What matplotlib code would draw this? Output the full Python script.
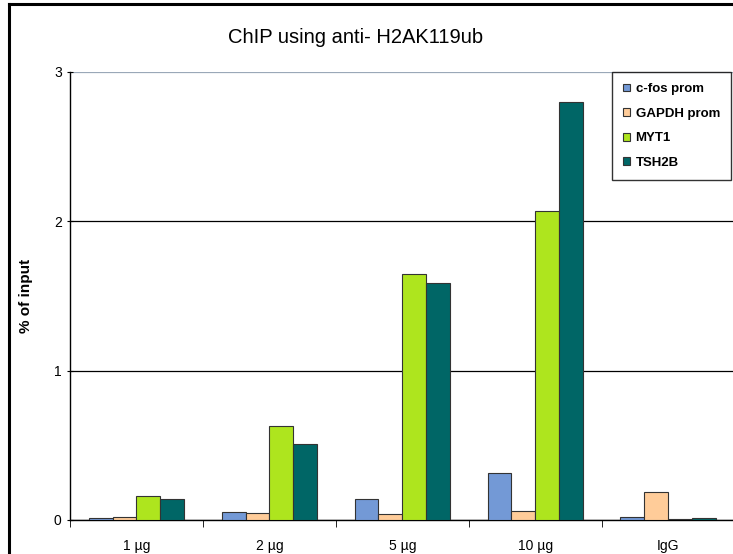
import numpy as np
import matplotlib.pyplot as plt
from matplotlib.lines import Line2D

plt.rcParams['font.family'] = ['Liberation Sans', 'DejaVu Sans']

categories = ['1 µg', '2 µg', '5 µg', '10 µg', 'IgG']
series = ['c-fos prom', 'GAPDH prom', 'MYT1', 'TSH2B']
cfos = [0.01, 0.055, 0.14, 0.315, 0.02]
gapdh = [0.02, 0.045, 0.04, 0.06, 0.19]
myt1 = [0.16, 0.63, 1.65, 2.07, 0.005]
tsh2b = [0.14, 0.51, 1.59, 2.80, 0.015]
colors = ['#7399D6', '#FFCC99', '#AEE51E', '#006666']

values = [cfos, gapdh, myt1, tsh2b]

fig = plt.figure(figsize=(7.33, 5.54), dpi=100)
ax = fig.add_axes([0.0955, 0.0614, 0.907, 0.8087])

x = np.arange(len(categories))
w = 0.18
for i, (name, vals, c) in enumerate(zip(series, values, colors)):
    ax.bar(x + (i - 1.5) * w, vals, w, color=c, edgecolor='#333333',
           linewidth=0.8, label=name, zorder=3)

ax.set_xlim(-0.5, len(categories) - 0.5)
ax.set_ylim(0, 3)
ax.set_yticks([0, 1, 2, 3])
ax.set_yticklabels(['0', '1', '2', '3'], fontsize=10)
ax.yaxis.grid(True, color='black', linewidth=0.9, zorder=0)
ax.get_ygridlines()[-1].set_color('#9AA8B8')

ax.set_xticks(x)
ax.set_xticklabels(categories, fontsize=10)
ax.tick_params(axis='x', length=0, pad=14)
ax.set_xticks(np.arange(-0.5, len(categories)), minor=True)
ax.tick_params(axis='x', which='minor', length=5, direction='out')
ax.tick_params(axis='y', length=5, direction='inout')

for s in ['top', 'right']:
    ax.spines[s].set_visible(False)
ax.spines['left'].set_linewidth(1)
ax.spines['bottom'].set_linewidth(1)

ax.set_ylabel('% of input', fontsize=11, fontweight='bold', labelpad=15)
fig.text(0.485, 0.932, 'ChIP using anti- H2AK119ub', ha='center', va='center',
         fontsize=14.5)

leg = ax.legend(loc='upper right', bbox_to_anchor=(0.9945, 1.0),
                prop={'weight': 'bold', 'size': 9.5}, frameon=True, fancybox=False,
                edgecolor='black', handlelength=0.55, handleheight=0.55,
                handletextpad=0.4, labelspacing=0.95, borderpad=0.85,
                borderaxespad=0)
leg.get_frame().set_linewidth(1)

fig.add_artist(Line2D([0.012, 0.012], [0, 0.993], color='black', linewidth=2.2,
                      transform=fig.transFigure))
fig.add_artist(Line2D([0.012, 1], [0.993, 0.993], color='black', linewidth=2.2,
                      transform=fig.transFigure))

fig.savefig('out.png', dpi=100)
